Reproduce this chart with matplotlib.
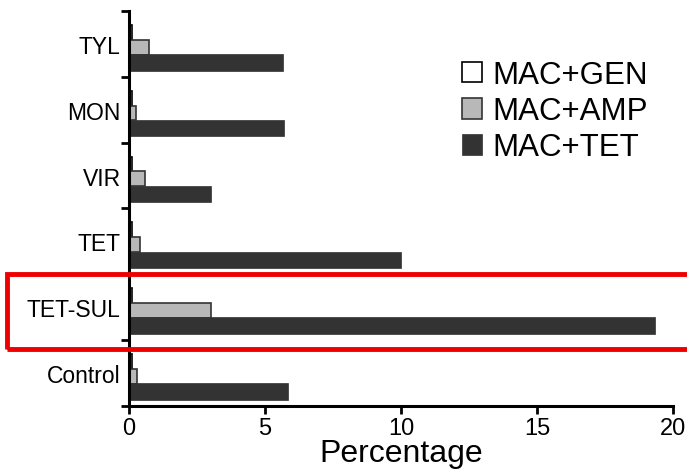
import numpy as np
import matplotlib.pyplot as plt
from matplotlib.patches import Rectangle

plt.rcParams['font.family'] = ['Liberation Sans', 'DejaVu Sans']

# Data (bottom to top)
groups = ['Control', 'TET-SUL', 'TET', 'VIR', 'MON', 'TYL']
mac_gen = [0.1, 0.1, 0.1, 0.1, 0.1, 0.12]
mac_amp = [0.3, 3.0, 0.4, 0.6, 0.25, 0.75]
mac_tet = [5.85, 19.35, 10.0, 3.0, 5.7, 5.65]

fig = plt.figure(figsize=(6.87, 4.77), dpi=100)
ax = fig.add_axes([0.1878, 0.1468, 0.7918, 0.8282])

y = np.arange(len(groups))
h = 0.225
ax.barh(y + 1 - 0.325, mac_gen, height=h, color='white', edgecolor='black', linewidth=1.2, label='MAC+GEN')
ax.barh(y + 1 - 0.55, mac_amp, height=h, color='#b8b8b8', edgecolor='#333333', linewidth=1.2, label='MAC+AMP')
ax.barh(y + 1 - 0.78, mac_tet, height=0.25, color='#333333', edgecolor='#333333', linewidth=0.5, label='MAC+TET')

ax.set_xlim(0, 20)
ax.set_ylim(0, 6)
ax.set_xticks([0, 5, 10, 15, 20])
ax.set_yticks(np.arange(0, 7), minor=False)
ax.set_yticklabels([])
ax.set_yticks(y + 0.5, minor=True)
ax.set_yticklabels(groups, minor=True, fontsize=16.5)
ax.tick_params(axis='y', which='minor', length=0, pad=6)
ax.tick_params(axis='y', which='major', length=6, width=2, direction='out')
ax.tick_params(axis='x', length=6, width=2, direction='out', labelsize=17, pad=2)
ax.set_xlabel('Percentage', fontsize=23, labelpad=-1)
for s in ['top', 'right']:
    ax.spines[s].set_visible(False)
ax.spines['left'].set_linewidth(2.2)
ax.spines['bottom'].set_linewidth(2.2)

ax.legend(loc='upper left', bbox_to_anchor=(462 / 687, 1 - 61 / 477), bbox_transform=fig.transFigure,
          frameon=False, fontsize=22.5, handlelength=0.65, handleheight=0.65, handletextpad=0.33,
          labelspacing=0.2, borderaxespad=0, borderpad=0)

# red highlight box around TET-SUL
fig.patches.append(Rectangle((7 / 687, 1 - 350 / 477), 690 / 687, 75 / 477, transform=fig.transFigure,
                             fill=False, edgecolor='#ee0000', linewidth=3.5, clip_on=False))

fig.savefig('out.png', dpi=100)
